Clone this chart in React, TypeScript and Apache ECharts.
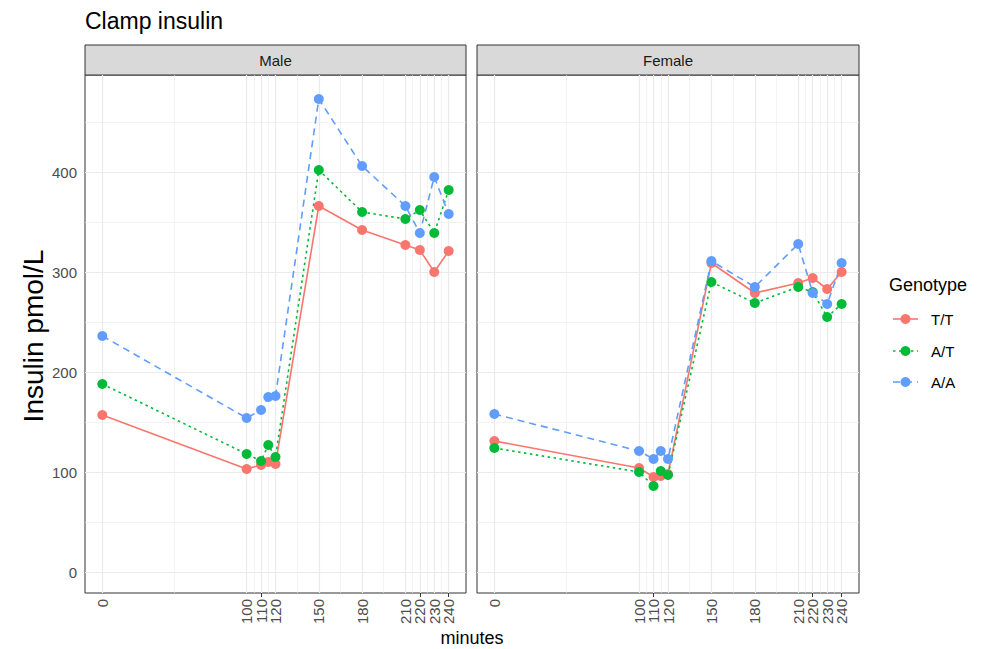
import React, { useEffect, useRef } from "react";
import * as echarts from "echarts";

const minutes = [0, 100, 110, 115, 120, 150, 180, 210, 220, 230, 240];
const xTicksA = [0, 100, 120, 150, 180, 210, 230];
const xTicksB = [110, 220, 240];
const xTicks = [0, 100, 110, 120, 150, 180, 210, 220, 230, 240];
const xMinor = [50, 105, 115, 135, 165, 195, 215, 225, 235];
const yTicks = [0, 100, 200, 300, 400];
const yMinor = [50, 150, 250, 350, 450];

const genotypes = ["T/T", "A/T", "A/A"];
const maleTT = [157, 103, 107, 110, 108, 366, 342, 327, 322, 300, 321];
const maleAT = [188, 118, 111, 127, 115, 402, 360, 353, 362, 339, 382];
const maleAA = [236, 154, 162, 175, 176, 473, 406, 366, 339, 395, 358];
const femaleTT = [131, 104, 95, 96, 98, 309, 279, 289, 294, 283, 300];
const femaleAT = [124, 100, 86, 101, 97, 290, 269, 285, 280, 255, 268];
const femaleAA = [158, 121, 113, 121, 113, 311, 285, 328, 279, 268, 309];

const colors = ["#F8766D", "#00BA38", "#619CFF"];
const dashes: any[] = ["solid", [2.5, 3.5], [7, 5]];
const FONT = "Liberation Sans, Arial, sans-serif";

const panels = [
  { name: "Male", left: 85, width: 381, data: [maleTT, maleAT, maleAA] },
  { name: "Female", left: 477, width: 382, data: [femaleTT, femaleAT, femaleAA] },
];
const TOP = 75;
const HEIGHT = 518;

function makeX(gridIndex: number, ticks: number[]) {
  return {
    type: "value",
    gridIndex,
    position: "bottom",
    offset: 0,
    min: -12,
    max: 252,
    axisLine: { show: false },
    splitLine: { show: false },
    axisTick: {
      show: true,
      customValues: ticks,
      length: 4,
      lineStyle: { color: "#333333", width: 1 },
    },
    axisLabel: {
      customValues: ticks,
      rotate: 90,
      margin: 6,
      fontSize: 15,
      color: "#4D4D4D",
      fontFamily: FONT,
      showMinLabel: true,
      showMaxLabel: true,
      hideOverlap: false,
    },
  };
}

export default function App() {
  const ref = useRef<HTMLDivElement>(null);
  useEffect(() => {
    if (!ref.current) return;
    const chart = echarts.init(ref.current, null, { renderer: "svg" });
    const grids: any[] = [];
    const xAxes: any[] = [];
    const yAxes: any[] = [];
    const series: any[] = [];
    const graphics: any[] = [];
    panels.forEach((p, i) => {
      grids.push({
        left: p.left,
        top: TOP,
        width: p.width,
        height: HEIGHT,
        show: true,
        backgroundColor: "#FFFFFF",
        borderColor: "#333333",
        borderWidth: 1,
      });
      const xa = xAxes.length;
      xAxes.push(makeX(i, xTicksA));
      xAxes.push(makeX(i, xTicksB));
      yAxes.push({
        type: "value",
        gridIndex: i,
        min: -21,
        max: 497,
        axisLine: { show: false },
        splitLine: { show: false },
        axisTick: {
          show: i === 0,
          customValues: yTicks,
          length: 4,
          lineStyle: { color: "#333333", width: 1 },
        },
        axisLabel: {
          show: i === 0,
          customValues: yTicks,
          margin: 8,
          fontSize: 15,
          color: "#4D4D4D",
          fontFamily: FONT,
        },
      });
      const ml: any[] = [];
      xMinor.forEach((v) => ml.push({ xAxis: v, lineStyle: { width: 0.6 } }));
      yMinor.forEach((v) => ml.push({ yAxis: v, lineStyle: { width: 0.6 } }));
      xTicks.forEach((v) => ml.push({ xAxis: v, lineStyle: { width: 1.2 } }));
      yTicks.forEach((v) => ml.push({ yAxis: v, lineStyle: { width: 1.2 } }));
      series.push({
        type: "line",
        xAxisIndex: xa,
        yAxisIndex: i,
        data: [],
        z: 1,
        silent: true,
        markLine: {
          silent: true,
          z: 1,
          symbol: "none",
          label: { show: false },
          lineStyle: { color: "#EBEBEB", type: "solid" },
          data: ml,
        },
      });
      p.data.forEach((vals, g) => {
        series.push({
          type: "line",
          name: genotypes[g],
          xAxisIndex: xa,
          yAxisIndex: i,
          data: minutes.map((m, k) => [m, vals[k]]),
          showSymbol: false,
          z: 3,
          lineStyle: { color: colors[g], width: 1.6, type: dashes[g] },
        });
      });
      p.data.forEach((vals, g) => {
        series.push({
          type: "scatter",
          name: genotypes[g] + " pts",
          xAxisIndex: xa,
          yAxisIndex: i,
          data: minutes.map((m, k) => [m, vals[k]]),
          symbol: "circle",
          symbolSize: 10,
          z: 4,
          itemStyle: { color: colors[g], opacity: 1 },
        });
      });
      graphics.push({
        type: "rect",
        shape: { x: p.left, y: 45, width: p.width, height: 30 },
        style: { fill: "#D9D9D9", stroke: "#333333", lineWidth: 1 },
      });
      graphics.push({
        type: "text",
        x: p.left + p.width / 2,
        y: 60,
        style: {
          text: p.name,
          fontSize: 15,
          fontFamily: FONT,
          fill: "#1A1A1A",
          align: "center",
          verticalAlign: "middle",
        },
      });
    });
    graphics.push({
      type: "text",
      x: 85,
      y: 21,
      style: {
        text: "Clamp insulin",
        fontSize: 23,
        fontFamily: FONT,
        fill: "#000000",
        align: "left",
        verticalAlign: "middle",
      },
    });
    graphics.push({
      type: "text",
      x: 33,
      y: 336,
      rotation: Math.PI / 2,
      style: {
        text: "Insulin pmol/L",
        fontSize: 28,
        fontFamily: FONT,
        fill: "#000000",
        align: "center",
        verticalAlign: "middle",
      },
    });
    graphics.push({
      type: "text",
      x: 472,
      y: 638,
      style: {
        text: "minutes",
        fontSize: 18,
        fontFamily: FONT,
        fill: "#000000",
        align: "center",
        verticalAlign: "middle",
      },
    });
    graphics.push({
      type: "text",
      x: 889,
      y: 285,
      style: {
        text: "Genotype",
        fontSize: 18,
        fontFamily: FONT,
        fill: "#000000",
        align: "left",
        verticalAlign: "middle",
      },
    });
    const rows = [319, 351, 382];
    genotypes.forEach((g, k) => {
      const y = rows[k];
      graphics.push({
        type: "line",
        shape: { x1: 893, y1: y, x2: 918, y2: y },
        style: {
          stroke: colors[k],
          lineWidth: 1.6,
          lineDash: dashes[k] === "solid" ? null : dashes[k],
        },
      });
      graphics.push({
        type: "circle",
        shape: { cx: 905.5, cy: y, r: 5 },
        style: { fill: colors[k] },
      });
      graphics.push({
        type: "text",
        x: 931,
        y: y,
        style: {
          text: g,
          fontSize: 15,
          fontFamily: FONT,
          fill: "#000000",
          align: "left",
          verticalAlign: "middle",
        },
      });
    });
    chart.setOption({
      animation: false,
      backgroundColor: "#FFFFFF",
      grid: grids,
      xAxis: xAxes,
      yAxis: yAxes,
      series,
      graphic: graphics,
    });
    return () => chart.dispose();
  }, []);
  return (
    <div
      ref={ref}
      style={{ position: "fixed", left: 0, top: 0, width: 990, height: 649 }}
    />
  );
}
